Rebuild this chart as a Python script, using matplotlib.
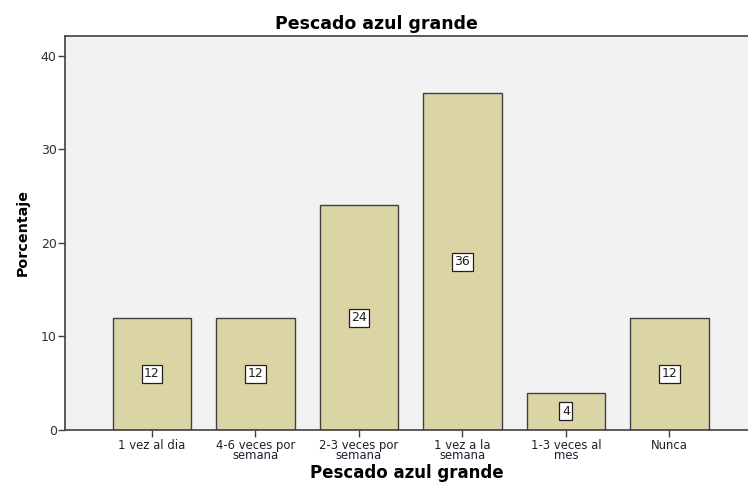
import matplotlib
matplotlib.use("Agg")
from matplotlib import pyplot as plt
import numpy as np

categorias = ['1 vez al dia', '4-6 veces por\nsemana', '2-3 veces por\nsemana',
              '1 vez a la\nsemana', '1-3 veces al\nmes', 'Nunca']
porcentaje = [12, 12, 24, 36, 4, 12]
yticks = [0, 10, 20, 30, 40]

plt.rcParams['font.family'] = ['DejaVu Sans']

fig = plt.figure(figsize=(7.48, 4.83), dpi=100)
ax = fig.add_axes([65 / 748, 53 / 483, 683 / 748, 394 / 483])
ax.set_facecolor('#f2f2f2')

x = np.arange(len(categorias))
ax.bar(x, porcentaje, width=0.76, color='#dbd5a6', edgecolor='#404040',
       linewidth=1.0, zorder=2)

for xi, v in zip(x, porcentaje):
    ax.text(xi, v / 2, str(v), ha='center', va='center', fontsize=9,
            color='#202020', zorder=3,
            bbox=dict(boxstyle='square,pad=0.2', fc='white', ec='#202020', lw=0.9))

ax.set_xlim(-0.84, 5.76)
ax.set_ylim(0, 42.1)
ax.set_yticks(yticks)
ax.set_xticks(x)
ax.set_xticklabels(categorias, fontsize=8.4, linespacing=0.72)
ax.tick_params(axis='y', labelsize=9, length=5, width=1, color='#404040', pad=1,
               labelcolor='#303030')
ax.tick_params(axis='x', length=5, width=1, color='#404040', pad=1.5,
               labelcolor='#202030')

for side in ['left', 'bottom', 'top']:
    ax.spines[side].set_color('#404040')
    ax.spines[side].set_linewidth(1.2)
ax.spines['right'].set_visible(False)

ax.set_ylabel('Porcentaje', fontsize=10.3, fontweight='bold', labelpad=8)
ax.set_xlabel('Pescado azul grande', fontsize=12, fontweight='bold', labelpad=1)
fig.suptitle('Pescado azul grande', x=0.503, y=0.968, fontsize=12.5,
             fontweight='bold', va='top')

fig.savefig('out.png', dpi=100)
